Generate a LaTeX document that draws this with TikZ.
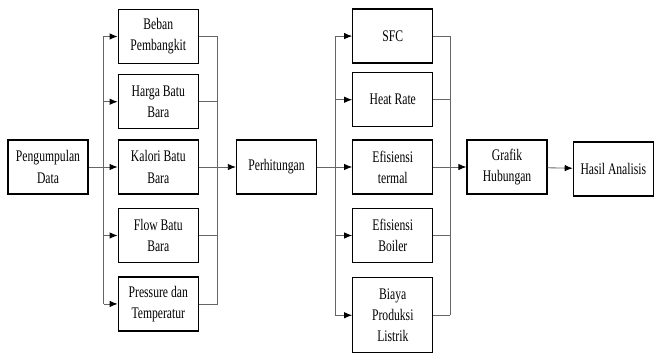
\documentclass[tikz,border=0pt]{standalone}
\usepackage{fontspec}
\setmainfont[FakeStretch=0.72]{Liberation Serif}
\usepackage{tikz}
\usetikzlibrary{arrows.meta,positioning}

\tikzset{
    kotak/.style={draw=black,line width=0.9pt,minimum width=2cm,minimum height=1.35cm,
        align=center,inner sep=2pt,font=\fontsize{11.5}{15}\selectfont},
    garis/.style={draw=black!60,line width=0.6pt},
    panah/.style={garis,-{Latex[length=2mm,width=1.6mm,color=black]}}
}

\begin{document}
\begin{tikzpicture}
    \useasboundingbox (0,0) rectangle (16.725,-9);

    \node[kotak] (data) at (1.2,-4.175) {Pengumpulan\\Data};
    \node[kotak,right=0.725cm of data] (kalori) {Kalori Batu\\Bara};
    \node[kotak,above=0.25cm of kalori] (harga) {Harga Batu\\Bara};
    \node[kotak,above=0.25cm of harga] (beban) {Beban\\Pembangkit};
    \node[kotak,below=0.33cm of kalori] (flow) {Flow Batu\\Bara};
    \node[kotak,below=0.33cm of flow] (pressure) {Pressure dan\\Temperatur};

    \node[kotak,right=0.925cm of kalori] (hitung) {Perhitungan};

    \node[kotak,right=0.875cm of hitung] (termal) {Efisiensi\\termal};
    \node[kotak,above=0.3cm of termal] (heatrate) {Heat Rate};
    \node[kotak,above=0.21cm of heatrate] (sfc) {SFC};
    \node[kotak,below=0.33cm of termal] (boiler) {Efisiensi\\Boiler};
    \node[kotak,below=0.35cm of boiler,minimum height=1.875cm] (biaya) {Biaya\\Produksi\\Listrik};

    \node[kotak,right=0.825cm of termal] (grafik) {Grafik\\Hubungan};
    \node[kotak,right=0.625cm of grafik,yshift=-0.05cm] (hasil) {Hasil Analisis};

    \coordinate[right=0.375cm of data] (split1);
    \coordinate[right=0.475cm of kalori] (join1);
    \coordinate[right=0.45cm of hitung] (split2);
    \coordinate[right=0.425cm of termal] (join2);

    % data ke parameter
    \draw[garis] (split1 |- beban) -- (split1 |- pressure);
    \draw[panah] (data) -- (kalori);
    \draw[panah] (split1 |- beban) -- (beban);
    \draw[panah] (split1 |- harga) -- (harga);
    \draw[panah] (split1 |- flow) -- (flow);
    \draw[panah] (split1 |- pressure) -- (pressure);

    % parameter ke perhitungan
    \draw[garis] (join1 |- beban) -- (join1 |- pressure);
    \draw[garis] (beban) -- (join1 |- beban);
    \draw[garis] (harga) -- (join1 |- harga);
    \draw[garis] (flow) -- (join1 |- flow);
    \draw[garis] (pressure) -- (join1 |- pressure);
    \draw[panah] (kalori) -- (hitung);

    % perhitungan ke hasil
    \draw[garis] (split2 |- sfc) -- (split2 |- biaya);
    \draw[panah] (hitung) -- (termal);
    \draw[panah] (split2 |- sfc) -- (sfc);
    \draw[panah] (split2 |- heatrate) -- (heatrate);
    \draw[panah] (split2 |- boiler) -- (boiler);
    \draw[panah] (split2 |- biaya) -- (biaya);

    % hasil ke grafik
    \draw[garis] (join2 |- sfc) -- (join2 |- biaya);
    \draw[garis] (sfc) -- (join2 |- sfc);
    \draw[garis] (heatrate) -- (join2 |- heatrate);
    \draw[garis] (boiler) -- (join2 |- boiler);
    \draw[garis] (biaya) -- (join2 |- biaya);
    \draw[panah] (termal) -- (grafik);
    \draw[panah] (grafik) -- (hasil);
\end{tikzpicture}
\end{document}
